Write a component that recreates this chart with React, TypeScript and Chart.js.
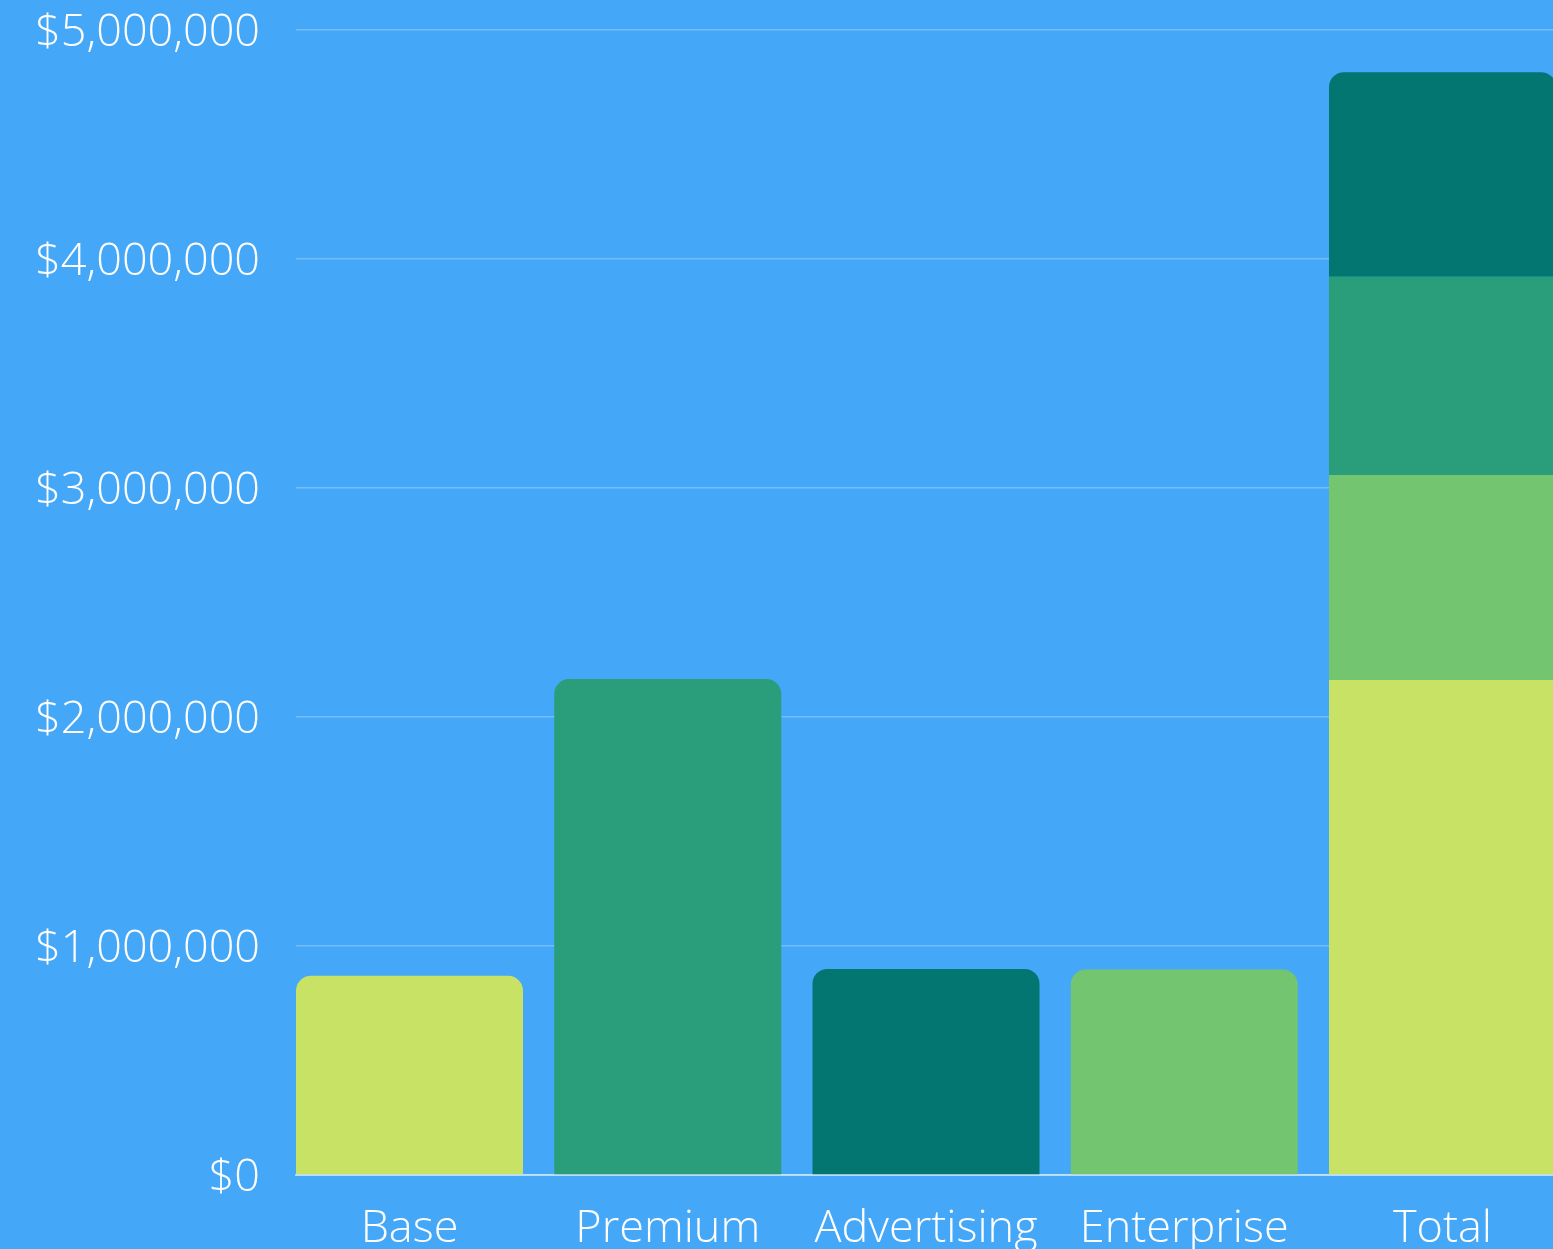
import React, { useEffect, useRef } from "react";
import { Chart, registerables } from "chart.js";

Chart.register(...registerables);

const categories = ["Base", "Premium", "Advertising", "Enterprise", "Total"];
const baseValues: (number | null)[] = [870000, null, null, null, 2162000];
const enterpriseValues: (number | null)[] = [null, null, null, 897000, 895000];
const premiumValues: (number | null)[] = [null, 2166000, null, null, 865000];
const advertisingValues: (number | null)[] = [null, null, 900000, null, 894000];
const yTicks = [0, 1000000, 2000000, 3000000, 4000000, 5000000];

const COLORS = {
  bg: "#44a7f8",
  base: "#c8e266",
  enterprise: "#74c56f",
  premium: "#2a9e7a",
  advertising: "#037671",
};

const W = 1553;
const H = 1262;

const toPoints = (vals: (number | null)[]) =>
  vals
    .map((v, i) => (v == null ? null : { x: i, y: v }))
    .filter((p) => p !== null) as { x: number; y: number }[];

export default function App() {
  const ref = useRef<HTMLCanvasElement>(null);
  useEffect(() => {
    document.body.style.margin = "0";
    document.body.style.background = COLORS.bg;
    document.documentElement.style.overflow = "hidden";
    const font = { family: "'Open Sans'", weight: 300 as any, size: 45 };
    const mk = (label: string, vals: (number | null)[], color: string) => ({
      label,
      data: toPoints(vals),
      backgroundColor: color,
      borderWidth: 0,
      borderRadius: 15,
      borderSkipped: "start" as const,
      barPercentage: 0.879,
      categoryPercentage: 1,
    });
    const chart = new Chart(ref.current!, {
      type: "bar",
      data: {
        datasets: [
          mk("Base", baseValues, COLORS.base),
          mk("Enterprise", enterpriseValues, COLORS.enterprise),
          mk("Premium", premiumValues, COLORS.premium),
          mk("Advertising", advertisingValues, COLORS.advertising),
        ],
      },
      options: {
        animation: false,
        responsive: false,
        devicePixelRatio: 1,
        layout: { padding: { top: 30, left: 0, right: 0, bottom: 0 } },
        plugins: { legend: { display: false }, tooltip: { enabled: false } },
        scales: {
          x: {
            type: "linear",
            stacked: true,
            offset: false,
            min: -0.4395,
            max: 4.4279,
            grid: { display: false, offset: false, drawTicks: false },
            border: { display: true, color: "rgba(255,255,255,0.55)", width: 2 },
            afterBuildTicks: (scale: any) => {
              scale.ticks = categories.map((_, i) => ({ value: i }));
            },
            afterFit: (scale: any) => {
              scale.height = H - 1175;
            },
            ticks: {
              autoSkip: false,
              maxRotation: 0,
              minRotation: 0,
              padding: 27,
              color: "#ffffff",
              font,
              callback: (v: any) => categories[Math.round(Number(v))] ?? "",
            },
          },
          y: {
            stacked: true,
            min: 0,
            max: 5000000,
            afterBuildTicks: (scale: any) => {
              scale.ticks = yTicks.map((v) => ({ value: v }));
            },
            afterFit: (scale: any) => {
              scale.width = 296;
            },
            grid: {
              color: "rgba(255,255,255,0.25)",
              lineWidth: 1.5,
              drawTicks: true,
              tickLength: 36,
              tickColor: "rgba(0,0,0,0)",
            },
            border: { display: false },
            ticks: {
              padding: 0,
              labelOffset: 3,
              color: "#ffffff",
              font,
              callback: (v: any) => "$" + Number(v).toLocaleString("en-US"),
            },
          },
        },
      },
    });
    return () => chart.destroy();
  }, []);
  return (
    <div style={{ width: W, height: H, background: COLORS.bg }}>
      <canvas ref={ref} width={W} height={H} style={{ display: "block" }} />
    </div>
  );
}
